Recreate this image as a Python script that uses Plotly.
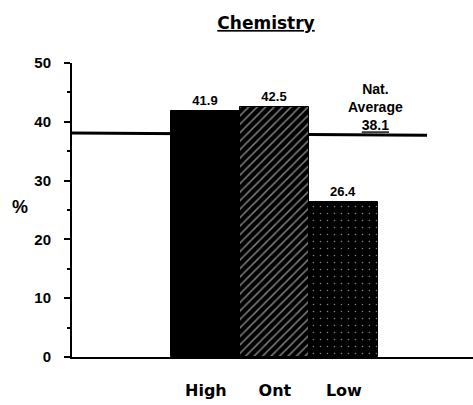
import plotly.graph_objects as go

categories = ["High", "Ont", "Low"]
values = [41.9, 42.5, 26.4]
labels = ["41.9", "42.5", "26.4"]
nat_avg = 38.1
y_ticks = [0, 10, 20, 30, 40, 50]

xpos = [0, 1, 2]

fig = go.Figure()
fig.add_trace(go.Bar(
    x=xpos, y=values, width=1,
    marker=dict(
        color=["black", "black", "black"],
        line=dict(color="black", width=1),
        pattern=dict(shape=["", "/", "."], fgcolor="white", bgcolor="black",
                     solidity=[0.3, 0.25, 0.04], size=[8, 6, 7]),
    ),
    text=["<b>%s</b>" % t for t in labels], textposition="outside", cliponaxis=False,
    textfont=dict(family="Liberation Sans", size=13, color="black"),
    showlegend=False,
))

x0 = -1.94
x1 = x0 + 401 / 69
fig.add_shape(type="line", xref="paper", yref="y", x0=0, x1=(427 - 72) / 401,
              y0=nat_avg, y1=nat_avg - 0.4, line=dict(color="black", width=3),
              layer="below")

fig.add_annotation(x=(405 - 72) / 401, xref="paper", y=nat_avg, yref="y",
                   text="<b>Nat.<br>Average<br><u>" + f"{nat_avg}" + "</u></b>",
                   showarrow=False, yanchor="bottom", yshift=-2, align="center",
                   font=dict(family="Liberation Sans", size=14, color="black"))

fig.add_annotation(x=(10 - 72) / 401, xref="paper", y=0.51, yref="paper",
                   text="<b>%</b>", showarrow=False, xanchor="left",
                   font=dict(family="Liberation Sans", size=18, color="black"))

fig.update_layout(
    width=473, height=405,
    margin=dict(l=72, r=0, t=63, b=48),
    paper_bgcolor="white", plot_bgcolor="white",
    bargap=0,
    title=dict(text="<u><b>Chemistry</b></u>", x=266 / 473, xanchor="center",
               y=1 - 23 / 405, yanchor="middle",
               font=dict(family="DejaVu Sans", size=17, color="black")),
    xaxis=dict(range=[x0, x1], tickvals=xpos, ticktext=["<b>%s</b>" % c for c in categories],
               showgrid=False, zeroline=False, showline=True, linecolor="black", linewidth=2,
               ticks="", ticklabelstandoff=18,
               tickfont=dict(family="DejaVu Sans", size=16, color="black")),
    yaxis=dict(range=[0, 50], tickvals=y_ticks, ticktext=["<b>%d</b>" % t for t in y_ticks],
               showgrid=False, zeroline=False, showline=True, linecolor="black", linewidth=2,
               ticks="outside", ticklen=6, tickwidth=2, tickcolor="black",
               ticklabelstandoff=10,
               minor=dict(tickvals=[5, 15, 25, 35, 45], ticks="outside", ticklen=3,
                          tickwidth=2, tickcolor="black"),
               tickfont=dict(family="Liberation Sans", size=15, color="black")),
)

fig.write_html("out.html")
